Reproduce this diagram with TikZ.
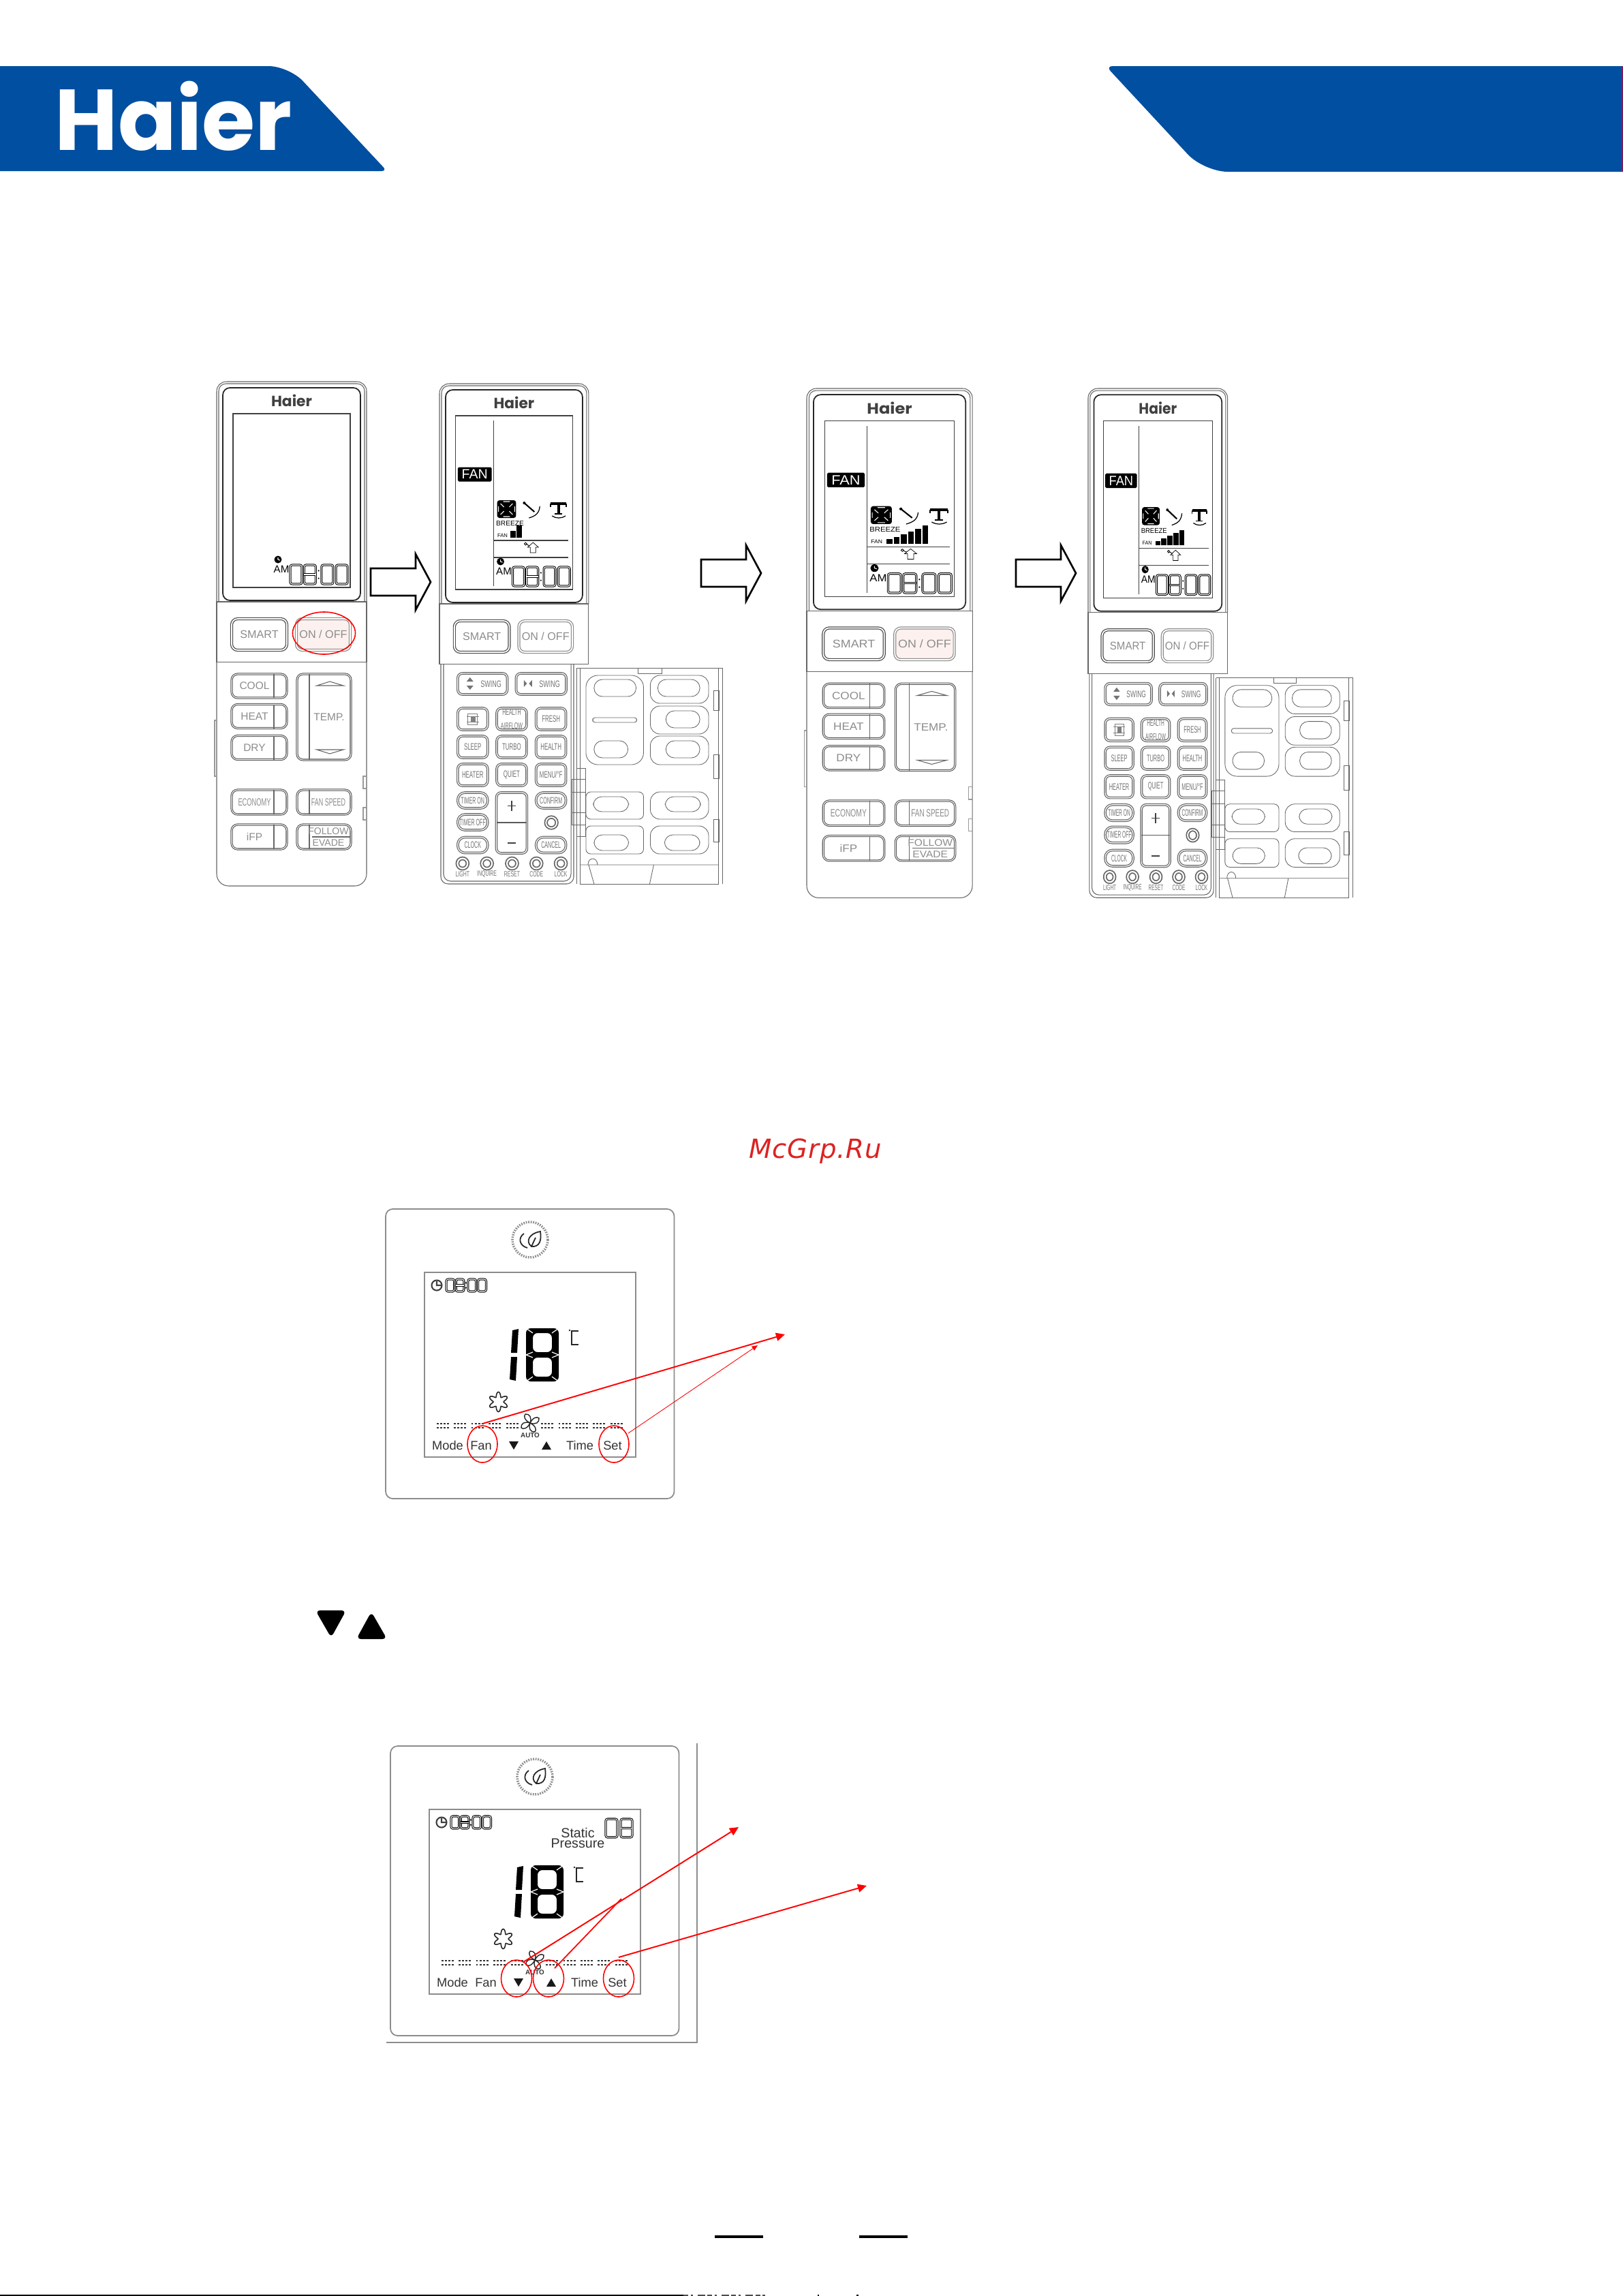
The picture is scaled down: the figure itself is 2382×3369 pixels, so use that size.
\documentclass[tikz,border=0pt]{standalone}
\usepackage{fontspec}
\setsansfont{Liberation Sans}
\newfontfamily\logofont{Poppins}
\newfontfamily\markfont[LetterSpace=2.2]{DejaVu Sans}
\usetikzlibrary{arrows.meta,shapes.geometric}
\definecolor{haierblue}{HTML}{004FA0}
\definecolor{onpink}{HTML}{FCF1EE}
\definecolor{markred}{HTML}{DD2222}

\newcommand{\pxfont}[1]{\fontsize{#1}{#1}\selectfont}
\newcommand{\thinword}[2]{\scalebox{#1}[1]{#2}}

\newcommand{\lcdtime}[4]{%
    \foreach \f/\m in {0/0,.24/1,.54/0,.79/0} {
        \draw[hollow] ({#1+\f*#3},#2) rectangle ({#1+(\f+.2)*#3},{#2+#4});
        \ifnum\m=1 \draw[hollow] ({#1+\f*#3},{#2+#4/2}) -- ({#1+(\f+.2)*#3},{#2+#4/2}); \fi
    }
    \fill ({#1+.49*#3},{#2+.3*#4}) circle[radius=1.2];
    \fill ({#1+.49*#3},{#2+.7*#4}) circle[radius=1.2];
}

\newcommand{\remotehead}[2]{%
    \filldraw[shell, fill=white, rounded corners=4pt] (0,323) -- (0,0) -- (220,0) -- (220,323);
    \draw[shell, rounded corners=3pt] (3,323) -- (3,3) -- (217,3) -- (217,323);
    \draw[screen, rounded corners=3pt] (9,321) -- (9,9) -- (211,9) -- (211,321) -- cycle;
    \draw[lcdframe] (24,47) rectangle (196,302);
    \node[font=\logofont\bfseries\pxfont{6.2}, text=black!75] (#1-brand) at (110,28) {Haier};
    \lcdtime{108}{269}{85}{28}
    \fill (90,261) circle[radius=5.5];
    \draw[white, line width=.3pt] (90,258) -- (90,261) -- (93,262);
    \node[font=\sffamily\pxfont{4.3}] (#1-am) at (95,275.5) {AM};
    \draw[shell] (0,323) rectangle (220,411.5);
    \node[bigkey, minimum width=.81cm, minimum height=.46cm] (#1-smart) at (62.5,371) {SMART};
    \node[bigkey, fill=#2, draw=black!45, minimum width=.79cm, minimum height=.46cm] (#1-onoff) at (156.5,371) {ON / OFF};
}

\newcommand{\remotefan}[2]{%
    \draw[lcdframe] (80,54) -- (80,297);
    \node[fill=black, text=white, font=\sffamily\pxfont{5.6}, minimum width=.5cm, minimum height=.21cm, inner sep=0pt, rounded corners=.5pt] (#1-mode) at (52,133) {FAN};
    \fill[rounded corners=1pt] (85,171) rectangle (113,197);
    \draw[white, line width=.3pt] (90,176) -- (95,181) (108,176) -- (103,181) (90,192) -- (95,187) (108,192) -- (103,187) (87,180) -- (87,188) (111,180) -- (111,188) (94,173) -- (104,173) (94,195) -- (104,195);
    \draw[line width=.6pt] (125,175) -- (140,188);
    \fill (125,175) circle[radius=2];
    \draw[line width=.35pt] (148,180) .. controls (147,190) and (142,194) .. (132,197);
    \draw[line width=1.1pt] (164,176) -- (187,176) (175.5,176) -- (175.5,191);
    \draw[line width=.5pt] (164,176) -- (164,181) (187,176) -- (187,181) (170,191) -- (181,191);
    \draw[line width=.35pt] (166,194) .. controls (172,198) and (180,198) .. (186,194);
    \node[font=\sffamily\pxfont{2.9}] (#1-breeze) at (104,205) {BREEZE};
    \node[font=\sffamily\pxfont{2.2}] (#1-speed) at (93,223) {FAN};
    \foreach \xx/\hh in {#2} {
        \fill (\xx,226) rectangle ({\xx+8},{226-\hh});
    }
    \draw[lcdframe] (80,230) -- (190,230) (80,255) -- (190,255);
    \draw[line width=.2pt] (134,248) -- (134,240) -- (130,240) -- (138,233) -- (146,240) -- (142,240) -- (142,248) -- cycle;
    \draw[line width=.25pt] (127,235) circle[radius=1.8] (129,236) -- (133,238);
}

\newcommand{\remoteclosed}[1]{%
    \draw[shell, rounded corners=5pt] (0,411.5) -- (0,740) -- (220,740) -- (220,411.5);
    \draw[shell, draw=black!40] (-3,497) rectangle (0,579) (215,579) rectangle (220,597) (215,625) rectangle (220,643);
    \foreach \nm/\yy/\txt in {cool/446.5/COOL,heat/491/HEAT,dry/537/DRY} {
        \node[flatkey, minimum width=.81cm, minimum height=.35cm] (#1-\nm) at (62.5,\yy) {\hspace{-1.4mm}\txt};
        \draw[shell] (84,\yy-17.5) -- (84,\yy+17.5);
    }
    \node[flatkey, minimum width=.79cm, minimum height=1.26cm] (#1-temp) at (157.5,492) {\hspace{1.5mm}TEMP.};
    \draw[shell] (136,429) -- (136,555);
    \draw[shell] (147,446) -- (166,440) -- (186,446) -- cycle (147,540) -- (166,546) -- (186,540) -- cycle;
    \node[flatkey, minimum width=.81cm, minimum height=.36cm] (#1-economy) at (62.5,617) {\hspace{-1.4mm}\thinword{.6}{ECONOMY}};
    \draw[shell] (84,599) -- (84,635);
    \node[flatkey, minimum width=.79cm, minimum height=.36cm] (#1-fanspeed) at (157.5,617) {\hspace{1.3mm}\thinword{.58}{FAN SPEED}};
    \draw[shell] (136,599) -- (136,635);
    \node[flatkey, minimum width=.81cm, minimum height=.36cm] (#1-ifp) at (62.5,668) {\hspace{-1.4mm}iFP};
    \draw[shell] (84,650) -- (84,686);
    \node[flatkey, minimum width=.79cm, minimum height=.36cm] (#1-followkey) at (157.5,668) {};
    \draw[shell] (136,650) -- (136,686) (140,668) -- (196,668);
    \node[font=\sffamily\pxfont{4}, text=black!45, inner sep=0pt] (#1-follow) at (164,660) {FOLLOW};
    \node[font=\sffamily\pxfont{4}, text=black!45, inner sep=0pt] (#1-evade) at (164,677) {EVADE};
}

\newcommand{\remoteopen}[1]{%
    \draw[shell, rounded corners=3pt] (2,411.5) -- (2,734) -- (198,734) -- (198,411.5);
    \draw[shell, rounded corners=3pt] (6,411.5) -- (6,730) -- (194,730) -- (194,411.5);
    \node[minikey, minimum width=.73cm, minimum height=.31cm] (#1-swingv) at (63.5,440.5) {\hspace{2.5mm}\thinword{.66}{SWING}};
    \node[minikey, minimum width=.74cm, minimum height=.31cm] (#1-swingh) at (150,440.5) {\hspace{2.5mm}\thinword{.66}{SWING}};
    \fill[black!55] (40,437) -- (45,431) -- (50,437) -- cycle (40,443) -- (45,449) -- (50,443) -- cycle;
    \fill[black!55] (129,440) -- (124.5,435) -- (124.5,445) -- cycle (132,440) -- (136.5,435) -- (136.5,445) -- cycle;
    \foreach \nm/\xx/\yy/\txt in {
        fresh/164.5/492/FRESH, sleep/49/533/SLEEP, turbo/106.5/533/TURBO, health/164.5/533/HEALTH,
        heater/49/574/HEATER, quiet/106.5/574/QUIET, menu/164.5/574/{MENU/°F}} {
        \node[minikey, minimum width=.44cm, minimum height=.32cm] (#1-\nm) at (\xx,\yy) {\thinword{.58}{\txt}};
    }
    \node[minikey, minimum width=.44cm, minimum height=.32cm] (#1-breezekey) at (49,492) {};
    \draw[black!50, line width=.25pt] (42,484) rectangle (56,500) (40,488) -- (58,488) (40,496) -- (58,496);
    \fill[black!50] (46,488) rectangle (53,496);
    \node[minikey, minimum width=.44cm, minimum height=.32cm, align=center, font=\sffamily\pxfont{3.6}] (#1-airflow) at (106.5,492) {\thinword{.56}{\shortstack{HEALTH\\AIRFLOW}}};
    \foreach \nm/\xx/\yy/\txt in {
        timeron/49/611.5/TIMER ON, timeroff/49/643.5/TIMER OFF, clock/49/677/CLOCK,
        confirm/164.5/611.5/CONFIRM, cancel/164.5/677/CANCEL} {
        \node[minikey, rounded corners=3pt, minimum width=.44cm, minimum height=.23cm] (#1-\nm) at (\xx,\yy) {\thinword{.52}{\txt}};
    }
    \node[minikey, minimum width=.45cm, minimum height=.89cm] (#1-plusminus) at (106.5,644.5) {};
    \draw[black!65, line width=.4pt] (84,644) -- (129,644);
    \draw[black!75, line width=.4pt] (106.5,612) -- (106.5,627) (100,619.5) -- (113,619.5) (100,674) -- (113,674);
    \draw[black!60, line width=.5pt, double=white, double distance=.5pt] (165,644) circle[radius=8];
    \foreach \nm/\xx/\txt in {light/34/LIGHT, inquire/70/INQUIRE, reset/107/RESET, code/143/CODE, lock/179/LOCK} {
        \draw[black!60, line width=.5pt, double=white, double distance=.6pt] (\xx,704) circle[radius=7.5];
        \node[font=\sffamily\pxfont{3.2}, text=black!55] (#1-\nm) at (\xx,720) {\thinword{.62}{\txt}};
    }
    \draw[coverline] (202,417) -- (418,417) -- (418,734) (202,417) -- (202,734) (207,417) -- (207,734) -- (411,734) -- (411,417);
    \draw[coverline] (293,417) -- (293,425) -- (328,425) -- (328,417);
    \draw[coverline, rounded corners=5pt] (216,428) rectangle (301,559);
    \draw[coverline, rounded corners=3.5pt] (228,434) rectangle (290,459) (228,524) rectangle (278,549);
    \draw[coverline, rounded corners=1pt] (226,490) rectangle (291,497);
    \foreach \ya/\yb in {428/469,473/514,517/559,599/639,649/690} {
        \draw[coverline, rounded corners=4pt] (311,\ya) rectangle (397,\yb);
    }
    \draw[coverline, rounded corners=3.5pt] (322,434) rectangle (384,459) (334,480) rectangle (384,505) (334,524) rectangle (384,549) (333,606) rectangle (385,628) (332,662) rectangle (384,685);
    \draw[coverline, rounded corners=2pt] (216,599) rectangle (301,639) (216,649) rectangle (301,690);
    \draw[coverline, rounded corners=3.5pt] (227,606) rectangle (279,628) (228,662) rectangle (279,685);
    \foreach \ya/\yb in {450/479,544/579,639/672} {
        \draw[coverline] (404,\ya) rectangle (412,\yb);
    }
    \draw[coverline] (195,580) rectangle (215,599) (195,599) rectangle (215,629) (195,629) rectangle (215,647) (202,564) rectangle (215,580) (202,647) rectangle (215,664);
    \draw[coverline] (207,706) -- (411,706) (220,706) -- (228,734) (316,706) -- (310,734);
    \draw[coverline] (219,706) .. controls (219,694) and (233,694) .. (233,706);
}

\newcommand{\controller}[1]{%
    \draw[casing, rounded corners=3pt] (0,0) rectangle (423.5,425);
    \draw[casing] (57,93) rectangle (367,364);
    \draw[black!45, line width=1pt, dash pattern=on .5pt off .5pt] (212,45) ellipse[x radius=26, y radius=26];
    \draw[black!85, line width=.5pt] (214,55) .. controls (205,48) and (210,36) .. (227,33) .. controls (229,46) and (226,56) .. (214,55) -- cycle (214,55) -- (220,42);
    \draw[black!85, line width=.5pt] (203,36) .. controls (194,42) and (196,54) .. (208,57);
    \draw[black!75, line width=.6pt] (75,112) circle[radius=7.5] (75,106) -- (75,112) -- (81,112);
    \lcdtime{89}{103}{59}{18}
    \fill (186,178) -- (195,176) -- (193,211) -- (184,211) -- cycle (184,217) -- (193,217) -- (191,252) -- (182,250) -- cycle;
    \fill[rounded corners=2pt, even odd rule] (206,175) rectangle (254,253) (216,182) rectangle (244,210) (216,218) rectangle (244,246);
    \draw[white, line width=.35pt] (206,175) -- (216,182) (254,175) -- (244,182) (206,253) -- (216,246) (254,253) -- (244,246) (206,214) -- (216,210) (206,214) -- (216,218) (254,214) -- (244,210) (254,214) -- (244,218);
    \fill[black!85] (270,178) circle[radius=1.3];
    \draw[black!85, line width=.55pt] (283,179) -- (273,179) -- (273,199) -- (283,199);
    \draw[black!85, line width=.45pt, domain=0:360, samples=73, smooth] plot ({165.5+(11-3.5*cos(6*\x))*cos(\x)},{283+(11-3.5*cos(6*\x))*sin(\x)});
    \foreach \bx in {75,100,125.5,151,177,228,253.5,279,304.4,329.6} {
        \draw[segdots] (\bx,315) -- ({\bx+19.5},315);
        \draw[segdots] (\bx,321) -- ({\bx+19.5},321);
    }
    \foreach \a in {0,90,180,270} {
        \filldraw[rotate around={\a:(212,314)}, fill=white, draw=black!85, line width=.4pt] (212,314) .. controls (204,310) and (202,304) .. (205,301) .. controls (211,300) and (215,306) .. (212,314) -- cycle;
    }
    \node[font=\sffamily\bfseries\pxfont{2.8}, text=black!80] (#1-auto) at (212,332) {AUTO};
    \foreach \nm/\xx/\txt in {mode/91/Mode, fan/140/Fan, time/285/Time, set/333/Set} {
        \node[font=\sffamily\pxfont{5.2}, text=black!80] (#1-\nm) at (\xx,347) {\txt};
    }
    \fill[black!90] (181,341) -- (195,341) -- (188,353) -- cycle (229,353) -- (243,353) -- (236,341) -- cycle;
}

\begin{document}
\begin{tikzpicture}[
        x=0.01cm,
        y=-0.01cm,
        shell/.style={draw=black!60, line width=.3pt},
        screen/.style={draw=black!85, line width=.5pt},
        lcdframe/.style={draw=black!75, line width=.3pt},
        hollow/.style={draw=black, line width=.3pt, double=white, double distance=.3pt, rounded corners=.8pt},
        bigkey/.style={draw=black!70, line width=.35pt, double=white, double distance=.5pt, rounded corners=2.5pt, inner sep=0pt, text=black!45, font=\sffamily\pxfont{4.6}},
        flatkey/.style={draw=black!70, line width=.3pt, double=white, double distance=.3pt, rounded corners=2.5pt, inner sep=0pt, text=black!45, font=\sffamily\pxfont{4.4}},
        minikey/.style={draw=black!60, line width=.35pt, double=white, double distance=.35pt, rounded corners=2pt, inner sep=0pt, text=black!55, font=\sffamily\pxfont{3.9}},
        coverline/.style={draw=black!60, line width=.24pt},
        casing/.style={draw=black!45, line width=.5pt},
        segdots/.style={black!80, line width=.8pt, dash pattern=on .85pt off .58pt},
        blockarrow/.style={draw=black, line width=.75pt, fill=white, miter limit=10},
        redring/.style={ellipse, draw=red, line width=.45pt, inner sep=0pt},
        hitarrow/.style={-{Triangle[length=3.7pt,width=3.4pt]}, red, line width=.55pt}
    ]
    \useasboundingbox (0,0) rectangle (2382,3369);
    \fill[white] (0,0) rectangle (2382,3369);

    \fill[haierblue] (0,97) [rounded corners=.3cm] -- (424,97) [rounded corners=.08cm] -- (568,251) [sharp corners] -- (0,251) -- cycle;
    \fill[haierblue] (2382,97) [rounded corners=.1cm] -- (1623,97) [rounded corners=.35cm] -- (1767,252) [sharp corners] -- (2382,252) -- cycle;
    \draw[purple, line width=.25pt] (2381.5,97) -- (2381.5,252);
    \node[font=\logofont\bfseries\pxfont{36}, text=white, anchor=base west, inner sep=0pt] (logo) at (80,220) {Haier};

    \begin{scope}[shift={(318,560)}, transform shape]
        \remotehead{ra}{onpink}
        \remoteclosed{ra}
    \end{scope}
    \begin{scope}[shift={(645,563)}, xscale=.995, transform shape]
        \remotehead{rb}{white}
        \remotefan{rb}{105/10,114/18}
        \remoteopen{rb}
    \end{scope}
    \begin{scope}[shift={(1184,570)}, xscale=1.105, yscale=1.01, transform shape]
        \remotehead{rc}{onpink}
        \remotefan{rc}{{106/7},{115.5/10},{125/14},{134.5/18},{144/22},{153.5/27}}
        \remoteclosed{rc}
    \end{scope}
    \begin{scope}[shift={(1597,570)}, xscale=.93, yscale=1.018, transform shape]
        \remotehead{rd}{white}
        \remotefan{rd}{{106/6},{115.5/10},{125/14},{134.5/18},{144/22}}
        \remoteopen{rd}
    \end{scope}

    \node[redring, minimum width=.92cm, minimum height=.62cm] (onring) at (475.5,929) {};

    \foreach \ax/\ay in {544/854,1029/841,1491/841} {
        \draw[blockarrow, shift={(\ax,\ay)}] (0,-20) -- (66,-20) -- (66,-41) -- (88,0) -- (66,41) -- (66,20) -- (0,20) -- cycle;
    }

    \node[font=\markfont\itshape\pxfont{11}, text=markred, anchor=base, inner sep=0pt] (mark) at (1196.5,1699) {McGrp.Ru};

    \begin{scope}[shift={(566,1774)}, transform shape]
        \controller{ca}
    \end{scope}
    \node[redring, minimum width=.44cm, minimum height=.54cm] (fanring) at (708,2119) {};
    \node[redring, minimum width=.44cm, minimum height=.54cm] (setring) at (901,2119) {};
    \coordinate (fanstart) at (708,2089);
    \coordinate (fantarget) at (1152,1958);
    \coordinate (setstart) at (922,2103);
    \coordinate (settarget) at (1112,1974);
    \draw[hitarrow] (fanstart) -- (fantarget);
    \draw[hitarrow, line width=.25pt, -{Triangle[length=2.4pt,width=2pt]}] (setstart) -- (settarget);

    \fill[rounded corners=2pt] (463,2363) -- (508,2363) -- (486,2403) -- cycle;
    \fill[rounded corners=2pt] (523,2405) -- (568,2405) -- (545,2365) -- cycle;

    \begin{scope}[shift={(573,2562)}, transform shape]
        \controller{cb}
        \draw[hollow] (316,107) rectangle (333,134) (338,107) rectangle (355,134) (338,120.5) -- (355,120.5);
        \node[font=\sffamily\pxfont{5.6}, text=black!80] (cb-static) at (275,127) {Static};
        \node[font=\sffamily\pxfont{5.6}, text=black!80] (cb-pressure) at (275,143) {Pressure};
    \end{scope}
    \draw[black!45, line width=.6pt] (1023,2558) -- (1023,2997) -- (567,2997);
    \node[redring, minimum width=.45cm, minimum height=.54cm] (downring) at (758,2903) {};
    \node[redring, minimum width=.45cm, minimum height=.54cm] (upring) at (805,2903) {};
    \node[redring, minimum width=.45cm, minimum height=.54cm] (setringb) at (908,2903) {};
    \coordinate (downstart) at (768,2879);
    \coordinate (downtarget) at (1084,2681);
    \coordinate (upstart) at (814,2888);
    \coordinate (upjoin) at (912,2786);
    \coordinate (setstartb) at (908,2872);
    \coordinate (settargetb) at (1272,2767);
    \draw[hitarrow] (downstart) -- (downtarget);
    \draw[red, line width=.5pt] (upstart) -- (upjoin);
    \draw[hitarrow] (setstartb) -- (settargetb);

    \fill (1049,3280) rectangle (1120,3284);
    \fill (1261,3280) rectangle (1332,3284);
    \fill (0,3367) rectangle (1003,3369);
    \draw[black!70, line width=.5pt, dash pattern=on 2pt off 1pt on 1pt off 2pt on 3pt off 1pt] (1003,3368) -- (1127,3368);
    \fill (1200,3367) rectangle (1202,3369);
    \fill (1257,3367) rectangle (1260,3369);
\end{tikzpicture}
\end{document}
